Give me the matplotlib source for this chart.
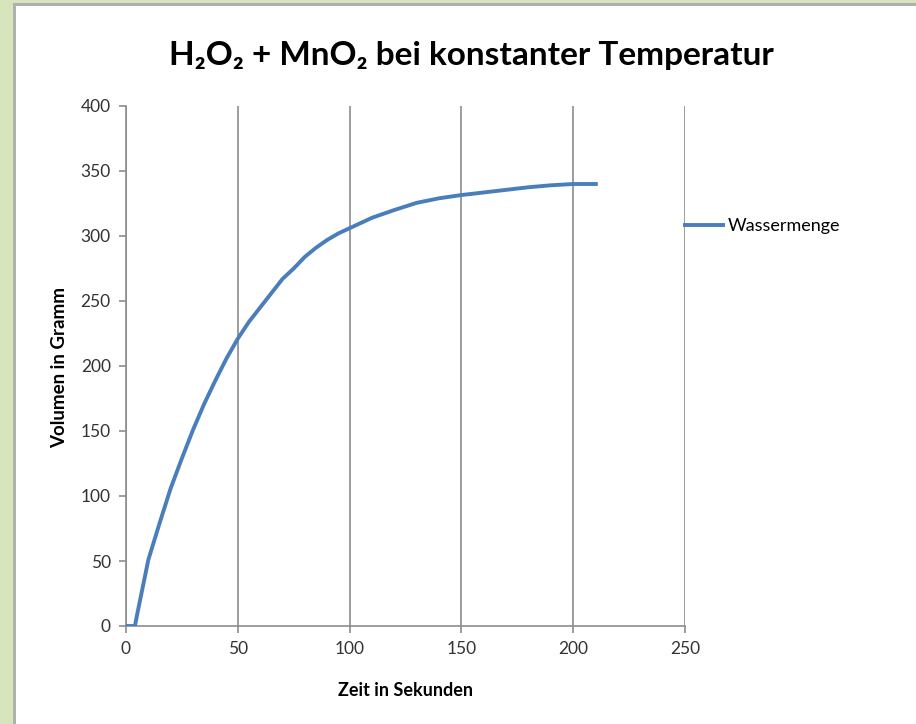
import matplotlib.pyplot as plt
from matplotlib.patches import Rectangle

zeit = [0, 4, 5, 10, 15, 20, 25, 30, 35, 40, 45, 50, 55, 60, 65, 70, 75, 80,
        85, 90, 95, 100, 105, 110, 115, 120, 130, 140, 150, 160, 170, 180,
        190, 200, 211]
wassermenge = [0, 0, 9, 51, 79, 106, 129, 151, 171, 189, 206, 221, 234, 245,
               256, 267, 275, 284, 291, 297, 302, 306, 310, 314, 317, 320,
               325.5, 329, 331.5, 333.5, 335.5, 337.5, 339, 340, 340]

x_ticks = [0, 50, 100, 150, 200, 250]
y_ticks = [0, 50, 100, 150, 200, 250, 300, 350, 400]

title = 'H\u2082O\u2082 + MnO\u2082 bei konstanter Temperatur'
x_label = 'Zeit in Sekunden'
y_label = 'Volumen in Gramm'
series_name = 'Wassermenge'

plt.rcParams['font.family'] = ['Lato', 'DejaVu Sans']

fig = plt.figure(figsize=(9.16, 7.24), dpi=100)
fig.patch.set_facecolor('#d8e4bc')

# weisses Feld mit leichtem Schatten oben/links
fig.patches.append(Rectangle((13 / 916, 0), 1, 1 - 3 / 724, transform=fig.transFigure,
                             facecolor='#b0b0b0', edgecolor='none', zorder=-10))
fig.patches.append(Rectangle((16 / 916, 0), 1, 1 - 6 / 724, transform=fig.transFigure,
                             facecolor='white', edgecolor='none', zorder=-9))

ax = fig.add_axes([126 / 916, 1 - 626 / 724, 559 / 916, 520 / 724])
ax.set_facecolor('none')

ax.plot(zeit, wassermenge, color='#4a7ebb', linewidth=2.8, label=series_name,
        solid_capstyle='butt', zorder=3)

ax.set_xlim(0, 250)
ax.set_ylim(0, 400)
ax.set_xticks(x_ticks)
ax.set_yticks(y_ticks)

ax.grid(True, axis='x', color='#8c8c8c', linewidth=1.2)
ax.set_axisbelow(True)
for side in ['top', 'right']:
    ax.spines[side].set_visible(False)
for side in ['left', 'bottom']:
    ax.spines[side].set_color('#8c8c8c')
    ax.spines[side].set_linewidth(1.2)

ax.tick_params(axis='both', direction='out', length=5, width=1.2, color='#8c8c8c',
               labelsize=12.5, labelcolor='#333333', pad=6)

fig.text(471 / 916, 1 - 55 / 724, title, ha='center', va='center',
         fontsize=24, fontweight='bold')
fig.text(405 / 916, 1 - 690 / 724, x_label, ha='center', va='center',
         fontsize=13, fontweight='bold')
fig.text(60 / 916, 1 - 368 / 724, y_label, ha='center', va='center',
         rotation=90, fontsize=13.5, fontweight='bold')

ax.legend(loc='center left', bbox_to_anchor=(683 / 916, 1 - 226 / 724),
          bbox_transform=fig.transFigure, frameon=False, fontsize=13,
          handlelength=2.3, handletextpad=0.15, borderaxespad=0, borderpad=0)

fig.savefig('out.png', dpi=100, facecolor=fig.get_facecolor())
